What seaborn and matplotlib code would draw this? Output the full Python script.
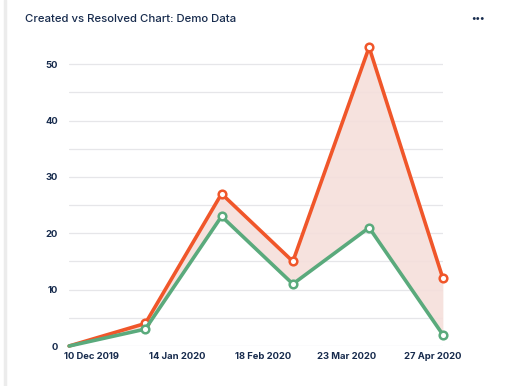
import pandas as pd
import matplotlib.pyplot as plt
import matplotlib.dates as mdates
from matplotlib.ticker import MultipleLocator
from matplotlib.lines import Line2D
import seaborn as sns

# monthly demo data
months = ['2019-12-01', '2020-01-01', '2020-02-01', '2020-03-01',
          '2020-04-01', '2020-05-01']
created = [0, 4, 27, 15, 53, 12]
resolved = [0, 3, 23, 11, 21, 2]
tick_dates = ['2019-12-10', '2020-01-14', '2020-02-18', '2020-03-23',
              '2020-04-27']
tick_labels = ['10 Dec 2019', '14 Jan 2020', '18 Feb 2020', '23 Mar 2020',
               '27 Apr 2020']

RED = '#f0562a'
GREEN = '#5aaa7c'
TEXT = '#172b4d'


def main():
    sns.set_style('white')
    plt.rcParams['font.family'] = ['Inter', 'DejaVu Sans']

    df = pd.DataFrame({'month': pd.to_datetime(months),
                       'created': created, 'resolved': resolved})

    fig = plt.figure(figsize=(5.12, 3.86), dpi=100)
    ax = fig.add_axes([0.135, 0.1036, 0.73, 0.796])

    # shaded gap between created and resolved
    ax.fill_between(df['month'], df['resolved'], df['created'],
                    where=df['created'] >= df['resolved'],
                    color='#f5dfdb', alpha=0.9, lw=0, zorder=1)

    line_kw = dict(lw=2.6, marker='o', markersize=5.5, markerfacecolor='white',
                   markeredgewidth=1.8, markevery=list(range(1, 6)), zorder=3,
                   clip_on=False)
    sns.lineplot(data=df, x='month', y='created', color=RED,
                 markeredgecolor=RED, ax=ax, **line_kw)
    sns.lineplot(data=df, x='month', y='resolved', color=GREEN,
                 markeredgecolor=GREEN, ax=ax, **line_kw)

    ax.set_xlim(pd.Timestamp('2019-12-01'), pd.Timestamp('2020-05-01'))
    ax.set_ylim(0, 54.5)
    ax.yaxis.set_major_locator(MultipleLocator(10))
    ax.yaxis.set_minor_locator(MultipleLocator(5))
    ax.grid(True, which='both', axis='y', color='#e6e6e9', lw=0.9, zorder=0)
    ax.set_axisbelow(True)

    ax.set_xticks(mdates.date2num(pd.to_datetime(tick_dates)))
    ax.set_xticklabels(tick_labels)
    ax.tick_params(axis='both', length=0, labelsize=6.8, labelcolor=TEXT)
    ax.tick_params(axis='y', pad=8)
    ax.tick_params(axis='x', pad=4)
    for lbl in ax.get_xticklabels() + ax.get_yticklabels():
        lbl.set_fontweight('bold')

    ax.set_xlabel('')
    ax.set_ylabel('')
    for s in ax.spines.values():
        s.set_visible(False)

    # card title and menu dots
    fig.text(0.049, 0.951, 'Created vs Resolved Chart: Demo Data',
             fontsize=8.2, fontweight='medium', color=TEXT, va='center')
    fig.text(0.934, 0.953, '•••', fontsize=7, fontweight='bold', color=TEXT,
             va='center', ha='center')
    # left card edge
    fig.add_artist(Line2D([0.009, 0.009], [0, 1], color='#ececec', lw=2.5,
                          transform=fig.transFigure))

    fig.savefig('out.png', dpi=100)


if __name__ == '__main__':
    main()
